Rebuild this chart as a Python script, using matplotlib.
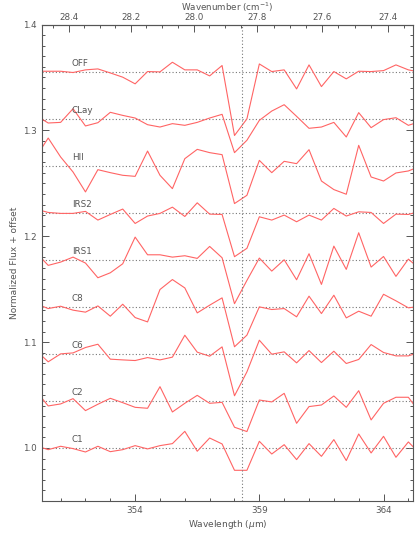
import numpy as np
import matplotlib.pyplot as plt
from matplotlib.ticker import MultipleLocator, FixedLocator, FormatStrFormatter

# wavelength grid of the spectra (micron)
wavelength = [350.0, 350.5, 351.0, 351.5, 352.0, 352.5, 353.0, 353.5,
              354.0, 354.5, 355.0, 355.5, 356.0, 356.5, 357.0, 357.5,
              358.0, 358.5, 359.0, 359.5, 360.0, 360.5, 361.0, 361.5,
              362.0, 362.5, 363.0, 363.5, 364.0, 364.5, 365.0, 365.5]

# normalized fluxes, bottom to top
c1 = [1.0022, 0.9984, 1.0016, 0.9994, 0.9962, 1.0016, 0.9965, 0.9984,
      1.0022, 0.9991, 1.0022, 1.0041, 1.0157, 0.9969, 1.0094, 1.0038,
      0.9789, 0.9789, 1.0063, 0.9943, 1.0031, 0.9890, 1.0041, 0.9921,
      1.0079, 0.9881, 1.0132, 0.9953, 1.0110, 0.9912, 1.0057, 0.9937]
c2 = [1.0097, 0.9953, 0.9972, 1.0022, 0.9909, 0.9969, 1.0025, 0.9984,
      0.9940, 0.9931, 1.0135, 0.9896, 0.9978, 1.0053, 0.9978, 0.9987,
      0.9752, 0.9711, 1.0009, 0.9991, 1.0072, 0.9789, 0.9947, 0.9962,
      1.0047, 0.9940, 1.0097, 0.9821, 0.9978, 1.0035, 1.0035, 0.9877]
c6 = [1.0035, 0.9925, 1.0000, 1.0009, 1.0060, 1.0091, 0.9950, 0.9943,
      0.9937, 0.9965, 0.9943, 0.9969, 1.0176, 1.0016, 0.9978, 1.0066,
      0.9604, 0.9830, 1.0129, 0.9997, 1.0019, 0.9915, 1.0031, 0.9918,
      1.0025, 0.9909, 0.9947, 1.0088, 1.0013, 0.9981, 0.9981, 1.0019]
c8 = [1.0031, 0.9984, 1.0006, 0.9969, 0.9950, 1.0009, 0.9912, 1.0025,
      0.9899, 0.9858, 1.0164, 1.0258, 1.0179, 0.9943, 1.0016, 1.0085,
      0.9623, 0.9733, 1.0000, 0.9975, 0.9984, 0.9906, 1.0101, 0.9937,
      1.0110, 0.9896, 0.9959, 0.9912, 1.0119, 1.0057, 0.9991, 1.0006]
irs1 = [1.0072, 0.9947, 0.9978, 1.0025, 0.9969, 0.9830, 0.9877, 0.9962,
        1.0214, 1.0047, 1.0047, 1.0025, 1.0038, 1.0013, 1.0126, 1.0019,
        0.9585, 0.9805, 1.0016, 0.9893, 1.0000, 0.9811, 1.0057, 0.9767,
        1.0129, 0.9909, 1.0255, 0.9931, 1.0031, 0.9843, 1.0006, 0.9906]
irs2 = [1.0035, 1.0003, 0.9994, 0.9994, 1.0013, 0.9931, 0.9984, 1.0035,
        0.9899, 0.9969, 0.9994, 1.0053, 0.9965, 1.0094, 0.9987, 0.9984,
        0.9585, 0.9664, 0.9962, 0.9931, 0.9978, 0.9915, 0.9978, 0.9931,
        1.0041, 0.9969, 1.0009, 1.0003, 0.9899, 0.9987, 0.9984, 1.0016]
hii = [1.0079, 1.0261, 1.0082, 0.9940, 0.9752, 0.9962, 0.9934, 0.9909,
       0.9899, 1.0138, 0.9909, 0.9783, 1.0066, 1.0154, 1.0123, 1.0104,
       0.9642, 0.9720, 1.0050, 0.9934, 1.0041, 1.0019, 1.0151, 0.9855,
       0.9774, 0.9730, 1.0192, 0.9893, 0.9855, 0.9931, 0.9950, 0.9997]
clay = [1.0031, 0.9959, 0.9965, 1.0094, 0.9931, 0.9962, 1.0060, 1.0031,
        1.0006, 0.9943, 0.9921, 0.9953, 0.9937, 0.9965, 1.0006, 1.0041,
        0.9679, 0.9796, 0.9984, 1.0072, 1.0132, 1.0022, 0.9909, 0.9921,
        0.9965, 0.9827, 1.0057, 0.9915, 0.9991, 1.0009, 0.9937, 0.9975]
off = [1.0003, 1.0003, 1.0003, 0.9991, 1.0016, 1.0025, 0.9987, 0.9947,
       0.9884, 1.0000, 0.9997, 1.0088, 1.0016, 1.0016, 0.9959, 1.0057,
       0.9396, 0.9553, 1.0072, 1.0000, 1.0016, 0.9836, 1.0063, 0.9858,
       1.0000, 0.9931, 1.0003, 1.0000, 1.0009, 1.0063, 1.0016, 0.9994]

names = ['C1', 'C2', 'C6', 'C8', 'IRS1', 'IRS2', 'HII', 'CLay', 'OFF']
spectra = [c1, c2, c6, c8, irs1, irs2, hii, clay, off]
offsets = [0.0, 0.0444, 0.0889, 0.1333, 0.1778, 0.2222, 0.2667, 0.3111, 0.3556]

wl_ticks = [354, 359, 364]
wn_ticks = [28.4, 28.2, 28.0, 27.8, 27.6, 27.4]
wn_minor = [28.45, 28.35, 28.3, 28.25, 28.15, 28.1, 28.05, 27.95, 27.9, 27.85,
            27.75, 27.7, 27.65, 27.55, 27.5, 27.45, 27.35]

line_center = 358.3   # dotted marker of the absorption line
lam_shift = 0.79      # shift between bottom and top axis scales

grey = '#555555'
red = '#ff6464'

fig = plt.figure(figsize=(4.15, 5.34), dpi=100)
ax = fig.add_axes([0.100, 0.062, 0.896, 0.892])

wl = np.array(wavelength)
for name, flux, dy in zip(names, spectra, offsets):
    ax.axhline(1 + dy, color='#777777', ls=(0, (1, 2)), lw=0.8)
    ax.plot(wl, np.array(flux) + dy, color=red, lw=0.8)
    ax.text(351.45, 1 + dy + 0.0035, name, fontsize=6.3, color=grey,
            ha='left', va='bottom')

ax.axvline(line_center, color='#777777', ls=(0, (1, 2)), lw=0.8)

ax.set_xlim(350.23, 365.2)
ax.set_ylim(0.95, 1.4)
ax.xaxis.set_major_locator(FixedLocator(wl_ticks))
ax.xaxis.set_minor_locator(MultipleLocator(1))
ax.yaxis.set_major_locator(MultipleLocator(0.1))
ax.yaxis.set_minor_locator(MultipleLocator(0.01))
ax.yaxis.set_major_formatter(FormatStrFormatter('%.1f'))

ax.tick_params(which='both', direction='in', top=False, right=True,
               labelsize=6.3, colors=grey, width=0.7)
ax.tick_params(which='major', length=5)
ax.tick_params(which='minor', length=2.5)
for s in ax.spines.values():
    s.set_color(grey)
    s.set_linewidth(0.8)

ax.set_xlabel('Wavelength ($\\mu$m)', fontsize=6.5, color=grey, labelpad=2)
ax.set_ylabel('Normalized Flux + offset', fontsize=6.5, color=grey, labelpad=3)

# top axis in wavenumber
top = ax.secondary_xaxis('top', functions=(lambda l: 1e4 / (l + lam_shift),
                                           lambda w: 1e4 / w - lam_shift))
top.xaxis.set_major_locator(FixedLocator(wn_ticks))
top.xaxis.set_minor_locator(FixedLocator(wn_minor))
top.xaxis.set_major_formatter(FormatStrFormatter('%.1f'))
top.tick_params(which='both', direction='in', labelsize=6.3, colors=grey,
                width=0.7, pad=1.5)
top.tick_params(which='major', length=5)
top.tick_params(which='minor', length=2.5)
top.spines['top'].set_color(grey)
top.spines['top'].set_linewidth(0.8)
top.set_xlabel('Wavenumber (cm$^{-1}$)', fontsize=6.3, color=grey, labelpad=1.5)

fig.savefig('out.png', dpi=100)
